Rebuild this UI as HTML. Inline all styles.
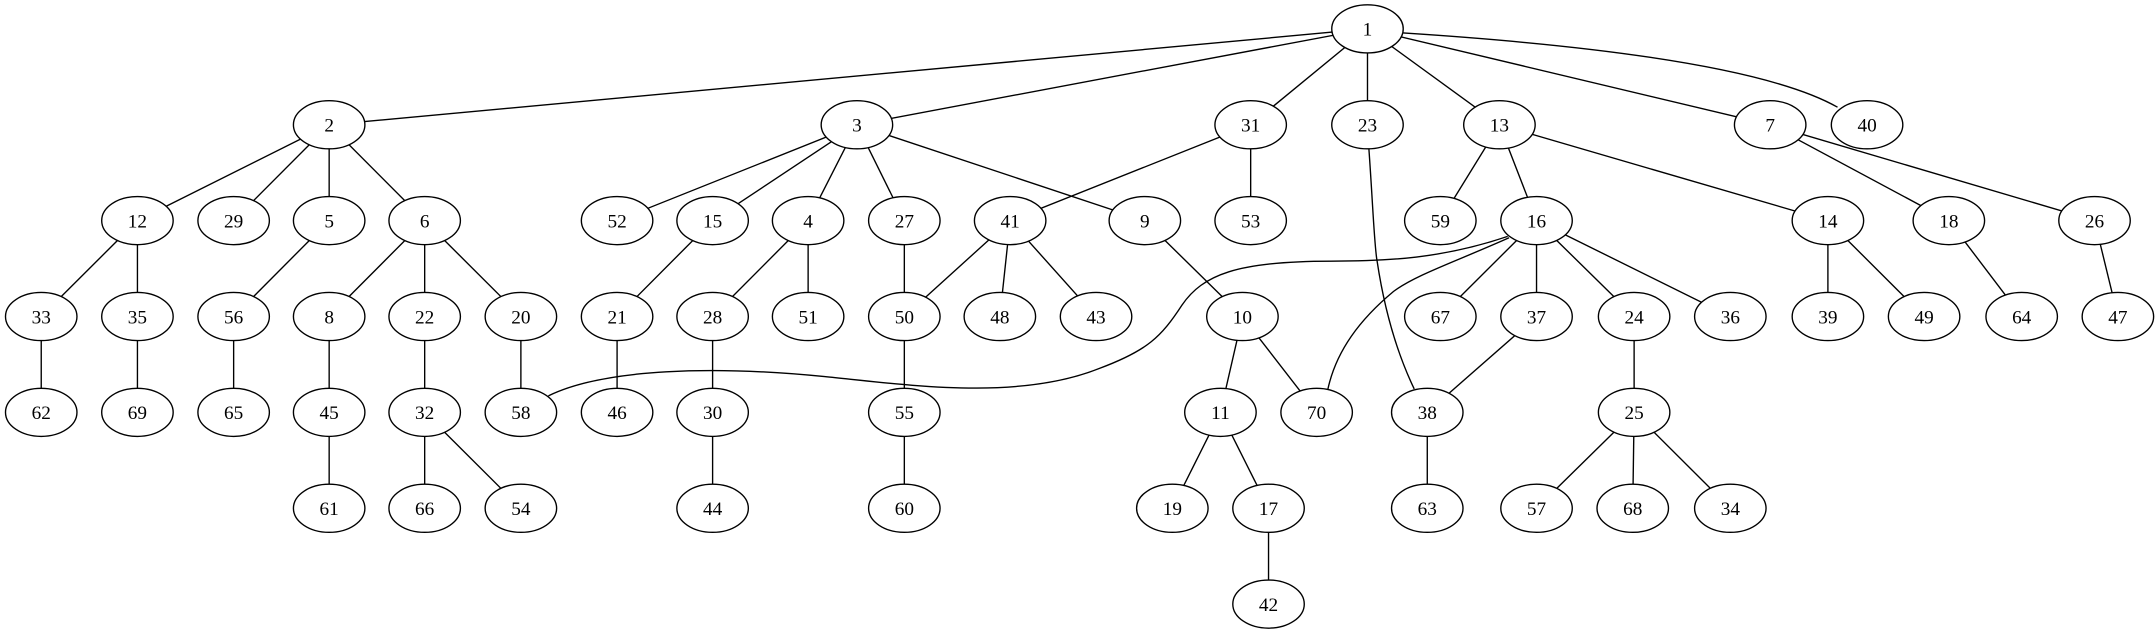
<!DOCTYPE html>
<html><head><style>html,body{margin:0;padding:0;background:#fff}svg{display:block}</style></head>
<body>
<svg width="2155" height="635" viewBox="0 0 1568 462" preserveAspectRatio="none" xmlns="http://www.w3.org/2000/svg">
<g id="edges" stroke="#000" stroke-width="1" fill="none"></g>
<g id="nodes"></g>
<script>
var R=[21,90.8,160.5,230.3,300,369.8,439.5];
var N={1:[995,0],2:[239.5,1],3:[623.5,1],31:[910,1],23:[995,1],13:[1091,1],7:[1288,1],40:[1358.5,1],
12:[100,2],29:[170,2],5:[239.5,2],6:[309,2],52:[449,2],15:[518.5,2],4:[588,2],27:[658,2],41:[735,2],9:[833,2],53:[910,2],59:[1048,2],16:[1118,2],14:[1330,2],18:[1418,2],26:[1524,2],
33:[30,3],35:[100,3],56:[170,3],8:[239.5,3],22:[309,3],20:[379,3],21:[449,3],28:[518.5,3],51:[588,3],50:[658,3],48:[727.5,3],43:[797.5,3],10:[904,3],67:[1048,3],37:[1118,3],24:[1189,3],36:[1259,3],39:[1330,3],49:[1400,3],64:[1471,3],47:[1541,3],
62:[30,4],69:[100,4],65:[170,4],45:[239.5,4],32:[309,4],58:[379,4],46:[449,4],30:[518.5,4],55:[658,4],11:[888,4],70:[958,4],38:[1038.5,4],25:[1189,4],
61:[239.5,5],66:[309,5],54:[379,5],44:[518.5,5],60:[658,5],19:[853,5],17:[923,5],63:[1038.5,5],57:[1118,5],68:[1188,5],34:[1259,5],
42:[923,6]};
var E="1-2 1-3 1-31 1-23 1-13 1-7 2-12 2-29 2-5 2-6 3-52 3-15 3-4 3-27 3-9 31-41 31-53 13-59 13-16 13-14 7-18 7-26 12-33 12-35 5-56 6-8 6-22 6-20 15-21 4-28 4-51 27-50 41-50 41-48 41-43 9-10 16-67 16-37 16-24 16-36 14-39 14-49 18-64 26-47 33-62 35-69 56-65 8-45 22-32 20-58 21-46 28-30 50-55 10-11 10-70 37-38 24-25 45-61 32-66 32-54 30-44 55-60 11-19 11-17 38-63 25-57 25-68 25-34 17-42".split(" ");
var ns="http://www.w3.org/2000/svg",eg=document.getElementById("edges"),ng=document.getElementById("nodes");
function P(k){return [N[k][0],R[N[k][1]]];}
E.forEach(function(s){var p=s.split("-"),a=P(p[0]),b=P(p[1]);var l=document.createElementNS(ns,"line");l.setAttribute("x1",a[0]);l.setAttribute("y1",a[1]);l.setAttribute("x2",b[0]);l.setAttribute("y2",b[1]);eg.appendChild(l);});
["M1021,24 Q1270,40 1337,78",
 "M996,108 C999,150 1000,180 1002,190 C1008,230 1018,260 1029,283",
 "M1098,173 C1060,190 1030,200 1014,212 C990,232 972,255 966,284",
 "M1097,172 C1050,188 1010,190 968,190 C900,190 875,200 860,222 C845,245 835,255 800,268 C740,292 660,280 600,274 C520,266 440,268 399,288"
].forEach(function(d){var p=document.createElementNS(ns,"path");p.setAttribute("d",d);eg.appendChild(p);});
for(var k in N){var p=P(k);var e=document.createElementNS(ns,"ellipse");e.setAttribute("cx",p[0]);e.setAttribute("cy",p[1]);e.setAttribute("rx",26);e.setAttribute("ry",17.5);e.setAttribute("fill","#fff");e.setAttribute("stroke","#000");ng.appendChild(e);
var t=document.createElementNS(ns,"text");t.setAttribute("x",p[0]);t.setAttribute("y",p[1]+5);t.setAttribute("text-anchor","middle");t.setAttribute("font-family","Liberation Serif, serif");t.setAttribute("font-size","14");t.textContent=k;ng.appendChild(t);}
</script>
</svg>
</body></html>
